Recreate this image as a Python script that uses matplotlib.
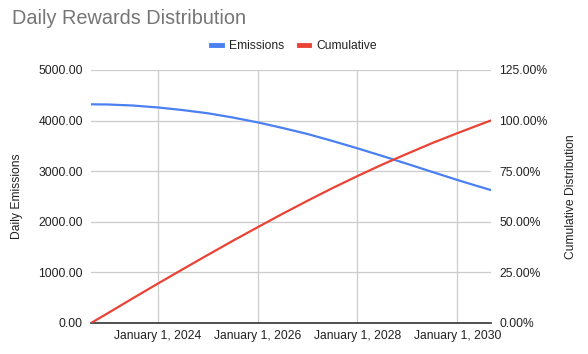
import matplotlib
matplotlib.use("Agg")
import matplotlib.pyplot as plt
import matplotlib.dates as mdates
from matplotlib.ticker import FuncFormatter, MultipleLocator
import pandas as pd

plt.rcParams['font.family'] = ['Liberation Sans', 'DejaVu Sans']

dates = ["2022-09-01", "2023-01-01", "2023-07-01", "2024-01-01", "2024-07-01",
         "2025-01-01", "2025-07-01", "2026-01-01", "2026-07-01", "2027-01-01",
         "2027-07-01", "2028-01-01", "2028-07-01", "2029-01-01", "2029-07-01",
         "2030-01-01", "2030-05-01", "2030-09-01"]
emissions = [4322, 4318, 4298, 4260, 4208, 4145, 4062, 3965, 3855, 3735,
             3598, 3452, 3300, 3143, 2985, 2826, 2727, 2628]
cumulative = [0.0, 4.8, 12.1, 19.4, 26.5, 33.6, 40.5, 47.3, 53.9, 60.4,
              66.6, 72.6, 78.3, 83.7, 88.9, 93.8, 96.9, 100.0]

x = pd.to_datetime(dates)

BLUE = "#4a80f2"
RED = "#EA4335"
GRID = "#cccccc"
TXT = "#222222"
FS = 8.7

fig = plt.figure(figsize=(5.88, 3.54), dpi=100)
ax = fig.add_axes([0.1548, 0.0876, 0.6797, 0.7147])
ax2 = ax.twinx()

l1, = ax.plot(x, emissions, color=BLUE, lw=1.6, label="Emissions", zorder=3)
l2, = ax2.plot(x, cumulative, color=RED, lw=1.6, label="Cumulative", zorder=3)

ax.set_xlim(x[0], x[-1])
ax.set_ylim(0, 5000)
ax2.set_ylim(0, 125)
ax.yaxis.set_major_locator(MultipleLocator(1000))
ax2.yaxis.set_major_locator(MultipleLocator(25))
ax.yaxis.set_major_formatter(FuncFormatter(lambda v, p: f"{v:.2f}"))
ax2.yaxis.set_major_formatter(FuncFormatter(lambda v, p: f"{v:.2f}%"))

ax.xaxis.set_major_locator(mdates.YearLocator(2, month=1, day=1))
ax.xaxis.set_major_formatter(FuncFormatter(
    lambda v, p: (lambda d: f"{d.strftime('%B')} {d.day}, {d.year}")(mdates.num2date(v))))

ax.grid(True, color=GRID, lw=0.9)
ax.set_axisbelow(True)
for a in (ax, ax2):
    for s in ("top", "left", "right", "bottom"):
        a.spines[s].set_visible(False)
ax.axhline(0, color="#333333", lw=1.2, zorder=4, clip_on=False)

ax.tick_params(axis="both", length=0, labelsize=FS, colors=TXT)
ax.tick_params(axis="x", pad=5)
ax.tick_params(axis="y", pad=6)
ax2.tick_params(axis="y", length=0, labelsize=FS, colors=TXT, pad=6)

ax.set_ylabel("Daily Emissions", fontsize=FS, color=TXT, labelpad=11)
ax2.set_ylabel("Cumulative Distribution", fontsize=FS, color=TXT, labelpad=13)

fig.text(0.02, 0.948, "Daily Rewards Distribution", fontsize=14.3, color="#757575",
         ha="left", va="center")

fig.legend(handles=[l1, l2], loc="center", bbox_to_anchor=(0.5, 0.87), ncol=2,
           frameon=False, fontsize=FS, handlelength=0.9, handletextpad=0.6,
           columnspacing=1.2, labelcolor=TXT)
for h in fig.legends[0].legend_handles:
    h.set_linewidth(3.5)

fig.savefig("out.png", dpi=100)
